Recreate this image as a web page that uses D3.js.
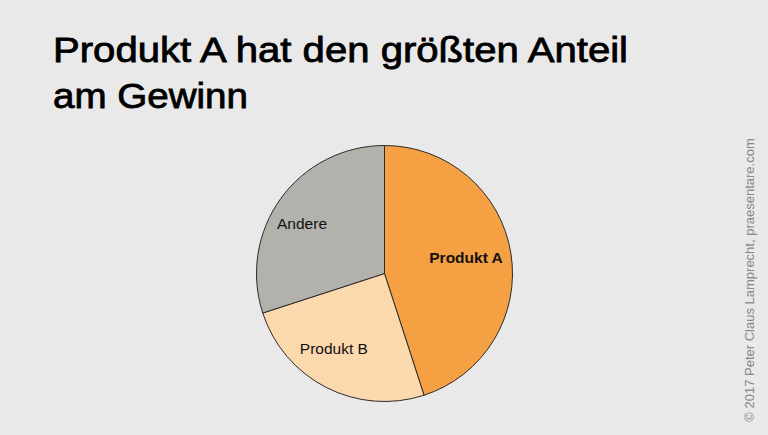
<!DOCTYPE html>
<html>
<head>
<meta charset="utf-8">
<script src="https://cdn.jsdelivr.net/npm/d3@7.9.0/dist/d3.min.js"></script>
<style>
  html, body { margin: 0; padding: 0; background: #e9e9e9; }
  svg { display: block; font-family: "Liberation Sans", Arial, Helvetica, sans-serif; }
</style>
</head>
<body>
<svg id="chart" width="768" height="435"></svg>
<script>
// Chart data
const categories = ['Produkt A', 'Produkt B', 'Andere'];
const shares = [45, 25, 30];
const colors = ['#f5a042', '#fcd8ad', '#b2b1ac'];
const titleLines = ['Produkt A hat den größten Anteil', 'am Gewinn'];
const credit = '© 2017 Peter Claus Lamprecht, praesentare.com';

// layout tweaks (label nudges from the centroid, px)
const labelNudge = [[-7, -2], [-10, -5], [-10, 3]];
const titleWidths = [575, 195];

const svg = d3.select('#chart');
const width = 768, height = 435;

svg.append('rect')
    .attr('width', width)
    .attr('height', height)
    .attr('fill', '#e9e9e9');

// Title
svg.append('g')
    .selectAll('text')
    .data(titleLines)
    .join('text')
    .attr('x', 53)
    .attr('y', (d, i) => 62 + i * 46)
    .attr('font-size', 35)
    .attr('fill', '#000')
    .attr('stroke', '#000')
    .attr('stroke-width', 0.8)
    .attr('textLength', (d, i) => titleWidths[i])
    .attr('lengthAdjust', 'spacingAndGlyphs')
    .text(d => d);

// Pie
const cx = 384.5, cy = 273.5, radius = 128;
const g = svg.append('g').attr('transform', `translate(${cx},${cy})`);

const data = categories.map((c, i) => ({ label: c, value: shares[i], color: colors[i] }));
const pie = d3.pie().value(d => d.value).sort(null);
const arc = d3.arc().innerRadius(0).outerRadius(radius);
const labelArc = d3.arc().innerRadius(radius * 0.7).outerRadius(radius * 0.7);

const arcs = pie(data);

g.selectAll('path')
    .data(arcs)
    .join('path')
    .attr('d', arc)
    .attr('fill', d => d.data.color)
    .attr('stroke', '#2b2b2b')
    .attr('stroke-width', 1);

g.selectAll('text')
    .data(arcs)
    .join('text')
    .attr('transform', d => {
        const [x, y] = labelArc.centroid(d);
        const [nx, ny] = labelNudge[d.index];
        return `translate(${x + nx},${y + ny})`;
    })
    .attr('text-anchor', 'middle')
    .attr('dy', '0.35em')
    .attr('font-size', 15.5)
    .attr('font-weight', d => d.index === 0 ? 'bold' : 'normal')
    .attr('fill', '#111')
    .text(d => d.data.label);

// Credit line, rotated
svg.append('text')
    .attr('transform', 'translate(754,280) rotate(-90)')
    .attr('text-anchor', 'middle')
    .attr('font-size', 13)
    .attr('fill', '#888')
    .text(credit);
</script>
</body>
</html>
